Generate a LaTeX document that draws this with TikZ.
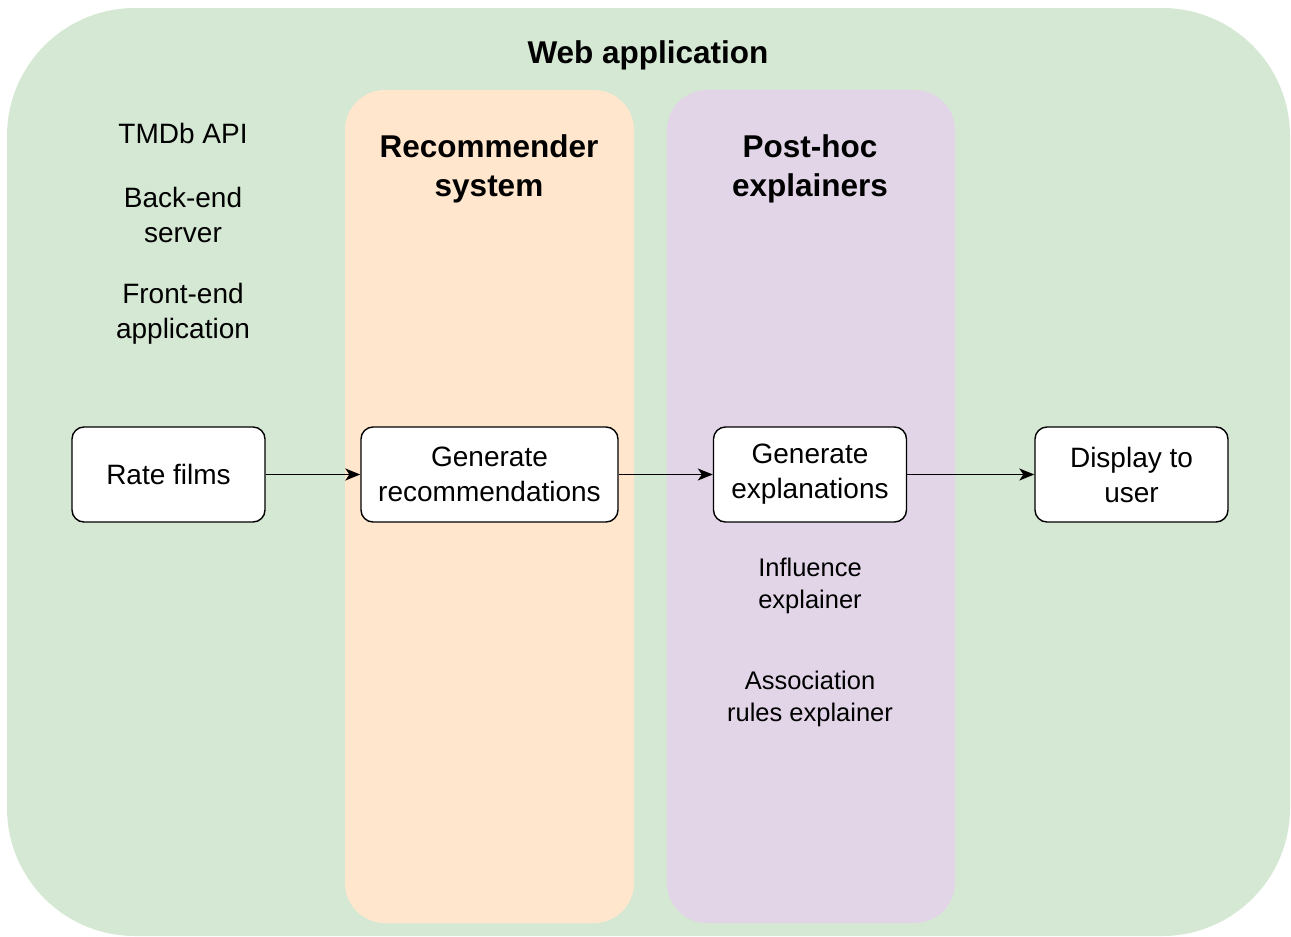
\documentclass[tikz,border=0pt]{standalone}
\usepackage{fontspec}
\setmainfont{Liberation Sans}
\usetikzlibrary{arrows.meta}
\definecolor{appgreen}{HTML}{D5E8D4}
\definecolor{recorange}{HTML}{FFE6CC}
\definecolor{explpurple}{HTML}{E1D5E7}
\tikzset{
  lane/.style={draw=none, rounded corners=40pt},
  stepbox/.style={draw=black, line width=1.4pt, fill=white, rounded corners=12pt,
    minimum width=193pt, minimum height=95pt, align=center, inner sep=0pt,
    font=\fontsize{28}{35}\selectfont},
  heading/.style={align=center, font=\bfseries\fontsize{31.5}{39}\selectfont},
  plain/.style={align=center, font=\fontsize{28}{35}\selectfont},
  small/.style={align=center, font=\fontsize{25.5}{32}\selectfont},
  flow/.style={-{Stealth[length=15pt,width=12pt,inset=4pt]}, line width=1.5pt}
}
\begin{document}
\begin{tikzpicture}[x=1pt,y=-1pt]
  \useasboundingbox (0,0) rectangle (1291,937);
  % outer application container
  \fill[appgreen, rounded corners=128pt] (7,8) rectangle (1290,936);
  % swimlanes
  \fill[lane, recorange] (345,90) rectangle (634,923);
  \fill[lane, explpurple] (667,90) rectangle (955,923);

  % headings
  \node[heading] (app) at (648,55) {Web application};
  \node[heading] (rec) at (489,169) {Recommender\\system};
  \node[heading] (exp) at (810,169) {Post-hoc\\explainers};

  % components listed on the left
  \node[plain] (tmdb) at (183,133) {TMDb API};
  \node[plain] (back) at (183,215) {Back-end\\server};
  \node[plain] (front) at (183,314) {Front-end\\application};

  % explainer types
  \node[small] (infl) at (810,586) {Influence\\explainer};
  \node[small] (assoc) at (810,699) {Association\\rules explainer};

  % process steps
  \node[stepbox] (rate) at (168.5,474.5) {Rate films};
  \node[stepbox, minimum width=257pt] (genrec) at (489.5,474.5) {Generate\\recommendations};
  \node[stepbox] (genexp) at (810,474.5) {Generate\\explanations};
  \node[stepbox] (disp) at (1131.5,474.5) {Display to\\user};

  \draw[flow] (rate) -- (genrec);
  \draw[flow] (genrec) -- (genexp);
  \draw[flow] (genexp) -- (disp);
\end{tikzpicture}
\end{document}
